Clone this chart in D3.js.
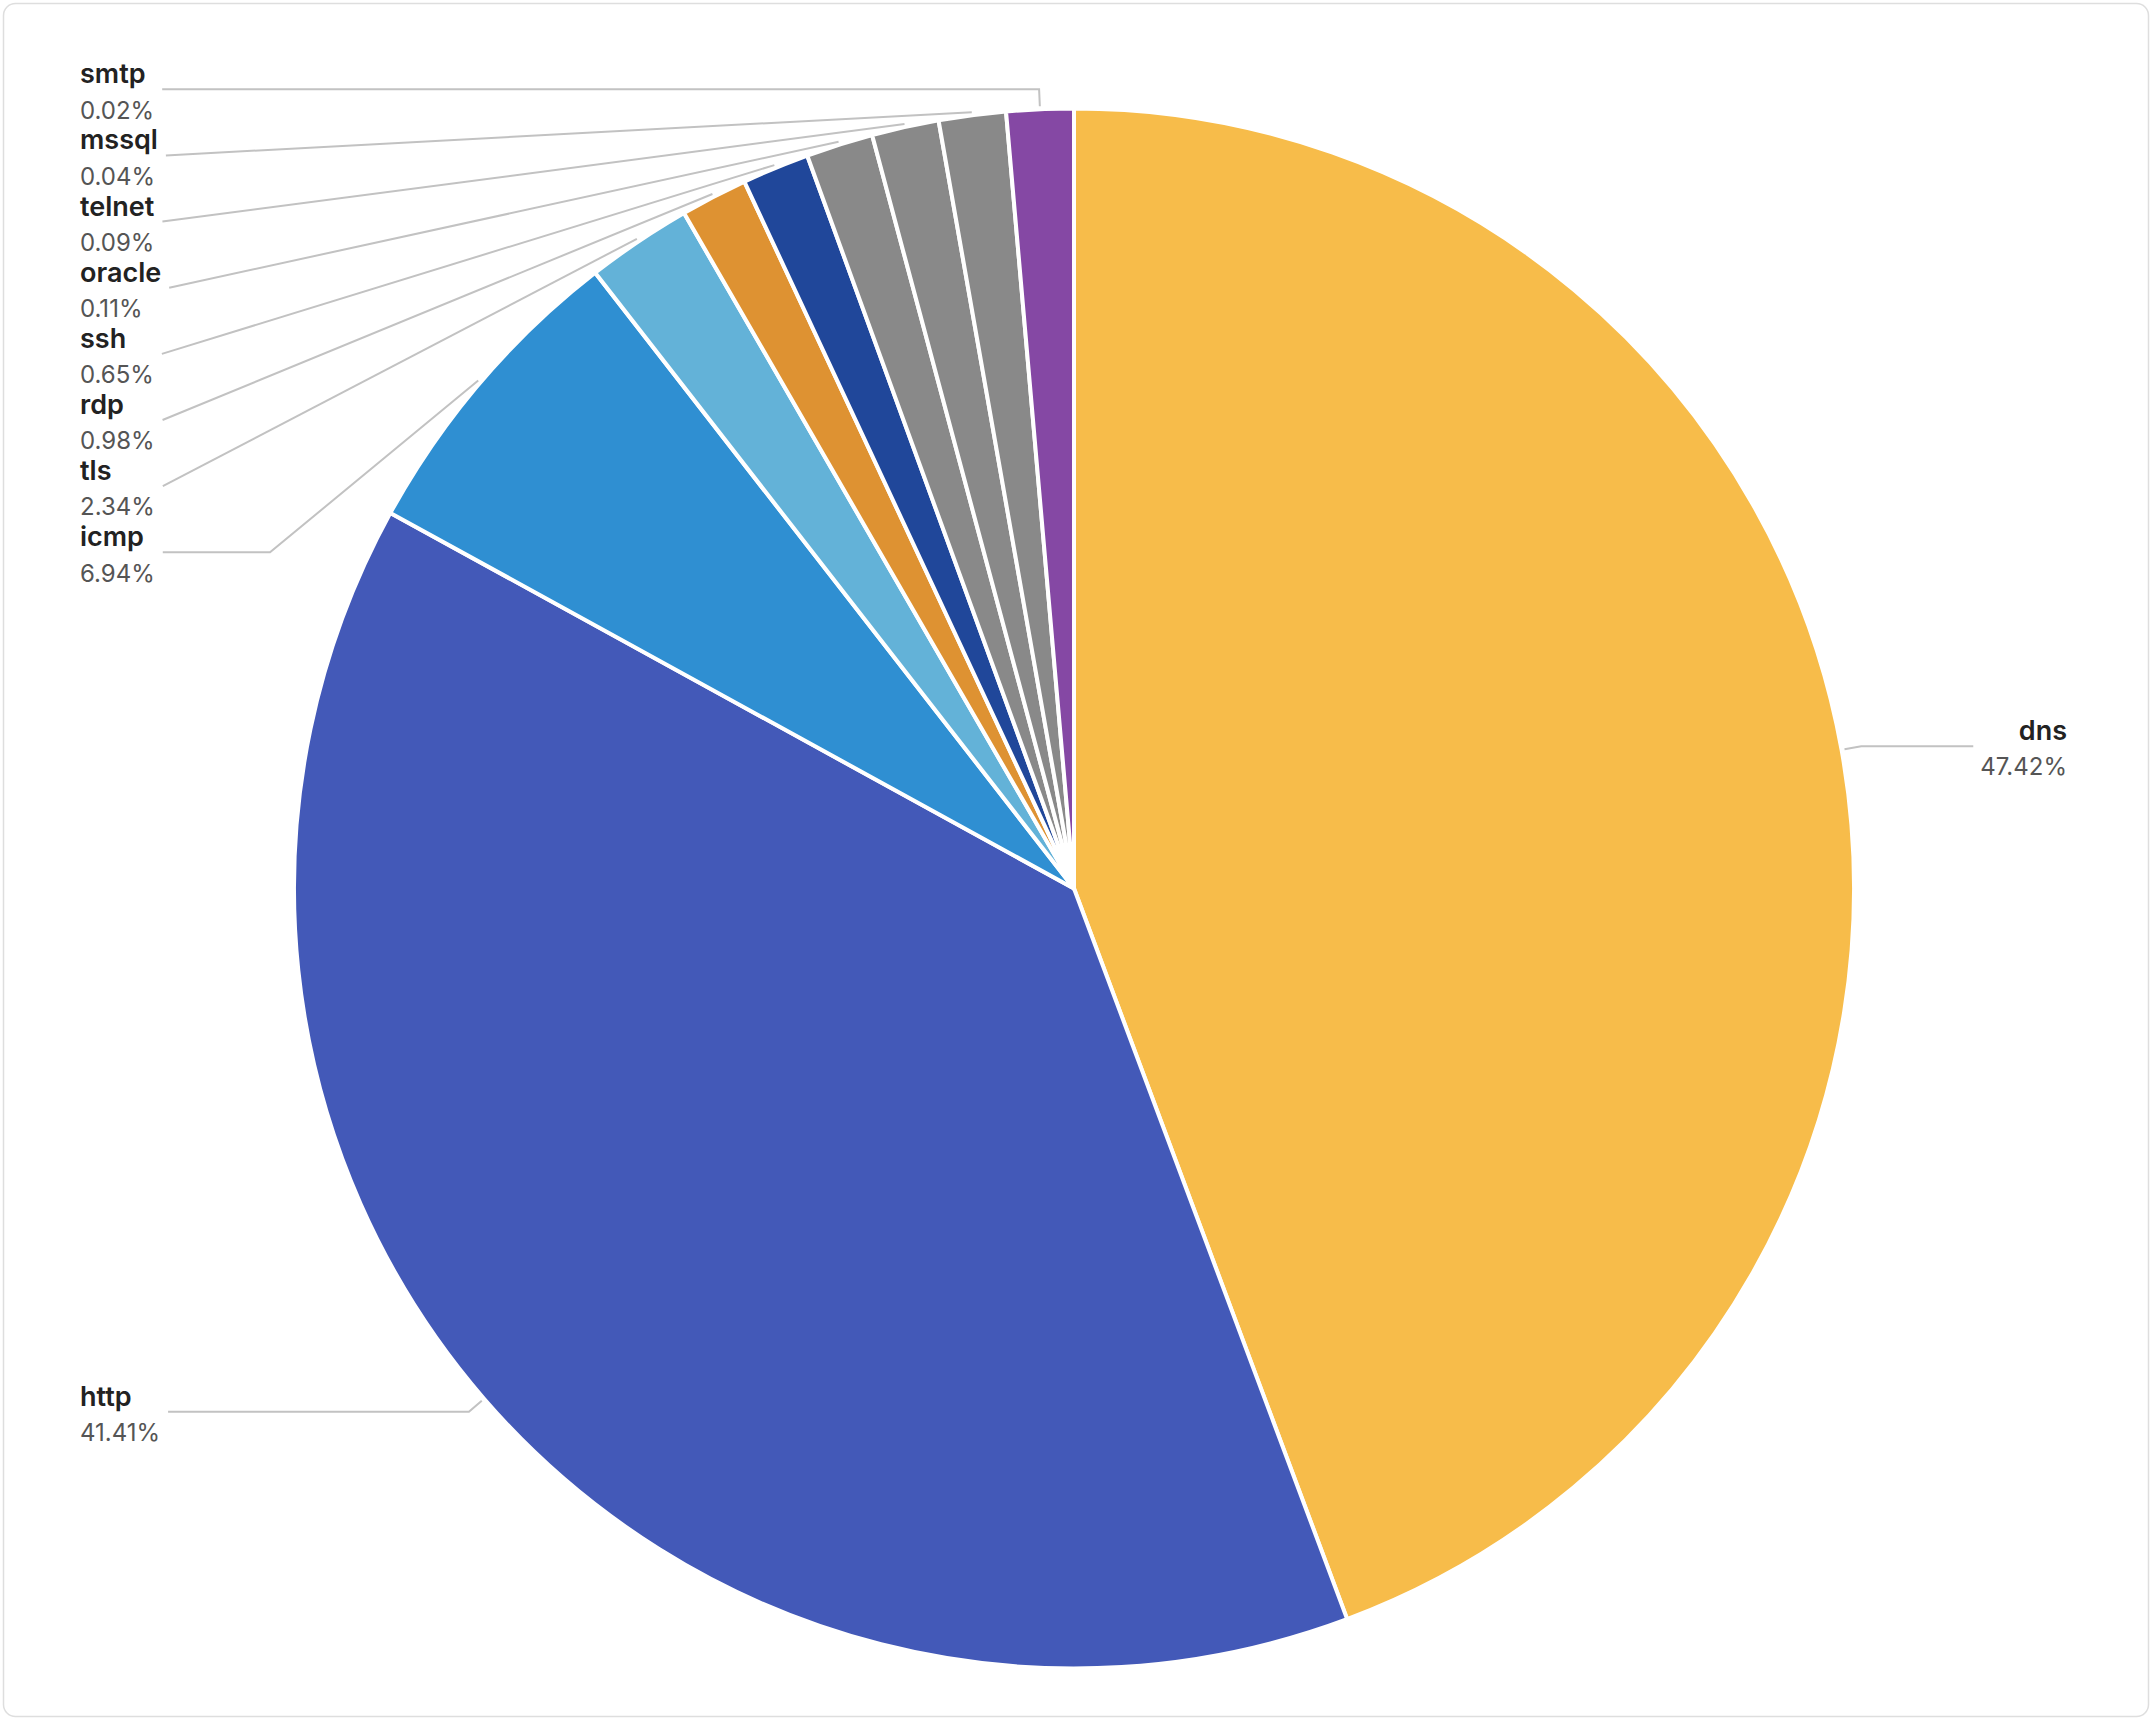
<!DOCTYPE html>
<html>
<head>
<meta charset="utf-8">
<script src="https://cdn.jsdelivr.net/npm/d3@7/dist/d3.min.js"></script>
<style>
  html, body { margin: 0; padding: 0; background: #ffffff; }
  svg { display: block; }
</style>
</head>
<body>
<svg id="chart" width="2152" height="1720"></svg>
<script>
// ---- data ----
const categories = ["dns", "http", "icmp", "tls", "rdp", "ssh", "oracle", "telnet", "mssql", "smtp"];
const percents   = [47.42, 41.41, 6.94, 2.34, 0.98, 0.65, 0.11, 0.09, 0.04, 0.02];
const colors     = ["#F7BC4A", "#4359B8", "#2F8FD2", "#63B2D8", "#DE9232", "#20479A", "#898989", "#898989", "#898989", "#8548A4"];
const percentLabels = ["47.42%", "41.41%", "6.94%", "2.34%", "0.98%", "0.65%", "0.11%", "0.09%", "0.04%", "0.02%"];

// ---- layout ----
const W = 2152, H = 1720;
const cx = 1074, cy = 888.5;
const R = 780;            // arc radius (white 4px border makes coloured edge ~778)
const R0 = 783;           // label line start radius
const R1 = 800;           // label line elbow radius
const minAngle = 5 * Math.PI / 180;
const labelStep = 66.15;
const leftEdge = 80, rightEdge = 2067;
const maxSurfaceAngle = 80, minTurnAngle = 90;

const svg = d3.select("#chart");

// card
svg.append("rect")
  .attr("x", 3.5).attr("y", 3.5).attr("width", W - 7).attr("height", H - 7)
  .attr("rx", 12).attr("ry", 12)
  .attr("fill", "#ffffff").attr("stroke", "#dedede").attr("stroke-width", 1.5);

// ---- min-angle adjusted pie (ECharts-like minAngle) ----
const total = d3.sum(percents);
const unit0 = 2 * Math.PI / total;
let rest = 2 * Math.PI, largeSum = 0, nSmall = 0;
percents.forEach(v => {
  if (v * unit0 < minAngle) { rest -= minAngle; nSmall++; } else { largeSum += v; }
});
const unit = rest / largeSum;
const effective = percents.map(v => (v * unit0 < minAngle) ? minAngle / unit : v);

const data = categories.map((c, i) => ({ name: c, value: percents[i], eff: effective[i], color: colors[i], pct: percentLabels[i] }));

const pie = d3.pie().sort(null).value(d => d.eff);
const arcs = pie(data);
const arc = d3.arc().innerRadius(0).outerRadius(R);

const g = svg.append("g").attr("transform", `translate(${cx},${cy})`);
g.selectAll("path.slice")
  .data(arcs)
  .join("path")
  .attr("class", "slice")
  .attr("d", arc)
  .attr("fill", d => d.data.color)
  .attr("stroke", "#ffffff")
  .attr("stroke-width", 4)
  .attr("stroke-linejoin", "round");

// ---- labels ----
const nameFont = "Inter, 'Noto Sans', sans-serif";
const labelsG = svg.append("g");

const layouts = arcs.map(a => {
  const mid = (a.startAngle + a.endAngle) / 2;
  const sx = Math.sin(mid), sy = -Math.cos(mid);
  return {
    a, mid, sx, sy,
    left: sx < 0,
    p0: [cx + R0 * sx, cy + R0 * sy],
    p1: [cx + R1 * sx, cy + R1 * sy],
    y: cy + R1 * sy
  };
});

// stack labels on each side (shift down on overlap)
[true, false].forEach(side => {
  const list = layouts.filter(l => l.left === side).sort((p, q) => p.y - q.y);
  for (let i = 1; i < list.length; i++) {
    if (list[i].y < list[i - 1].y + labelStep) list[i].y = list[i - 1].y + labelStep;
  }
});

function projectPointToLine(x1, y1, x2, y2, x, y, out) {
  const dx = x - x1, dy = y - y1;
  let dx1 = x2 - x1, dy1 = y2 - y1;
  const len = Math.sqrt(dx1 * dx1 + dy1 * dy1);
  dx1 /= len; dy1 /= len;
  const t = dx * dx1 + dy * dy1;
  out[0] = x1 + t * dx1; out[1] = y1 + t * dy1;
  return Math.hypot(out[0] - x, out[1] - y);
}
function norm(v) { const l = Math.hypot(v[0], v[1]); return [v[0] / l, v[1] / l, l]; }

function limitTurnAngle(pts, ang) {
  ang = ang / 180 * Math.PI;
  const [p0, p1, p2] = pts;
  const d1 = norm([p0[0] - p1[0], p0[1] - p1[1]]);
  const d2 = norm([p2[0] - p1[0], p2[1] - p1[1]]);
  if (d1[2] < 1e-3 || d2[2] < 1e-3) return;
  const c = d1[0] * d2[0] + d1[1] * d2[1];
  if (Math.cos(ang) < c) {
    const proj = [];
    const d = projectPointToLine(p1[0], p1[1], p2[0], p2[1], p0[0], p0[1], proj);
    const k = d / Math.tan(Math.PI - ang);
    let q = [proj[0] + d2[0] * k, proj[1] + d2[1] * k];
    const t = p2[0] !== p1[0] ? (q[0] - p1[0]) / (p2[0] - p1[0]) : (q[1] - p1[1]) / (p2[1] - p1[1]);
    if (isNaN(t)) return;
    if (t < 0) q = p1.slice(); else if (t > 1) q = p2.slice();
    pts[1] = q;
  }
}
function limitSurfaceAngle(pts, normal, ang) {
  ang = ang / 180 * Math.PI;
  const [p0, p1, p2] = pts;
  const d1 = norm([p1[0] - p0[0], p1[1] - p0[1]]);
  const d2 = norm([p2[0] - p1[0], p2[1] - p1[1]]);
  if (d1[2] < 1e-3 || d2[2] < 1e-3) return;
  const c = d1[0] * normal[0] + d1[1] * normal[1];
  if (c < Math.cos(ang)) {
    const proj = [];
    const d = projectPointToLine(p1[0], p1[1], p2[0], p2[1], p0[0], p0[1], proj);
    const angle2 = Math.acos(d2[0] * normal[0] + d2[1] * normal[1]);
    const newAngle = Math.PI / 2 + angle2 - ang;
    let q;
    if (newAngle >= Math.PI / 2) {
      q = p2.slice();
    } else {
      const k = d / Math.tan(Math.PI / 2 - newAngle);
      q = [proj[0] + d2[0] * k, proj[1] + d2[1] * k];
      const t = p2[0] !== p1[0] ? (q[0] - p1[0]) / (p2[0] - p1[0]) : (q[1] - p1[1]) / (p2[1] - p1[1]);
      if (isNaN(t)) return;
      if (t < 0) q = p1.slice(); else if (t > 1) q = p2.slice();
    }
    pts[1] = q;
  }
}

layouts.forEach(l => {
  const lg = labelsG.append("g");
  const anchor = l.left ? "start" : "end";
  const tx = l.left ? leftEdge : rightEdge;
  const nameT = lg.append("text")
    .attr("x", tx).attr("y", l.y - 6)
    .attr("text-anchor", anchor)
    .attr("font-family", nameFont)
    .attr("font-size", 27).attr("font-weight", 600)
    .attr("fill", "#222222")
    .text(l.a.data.name);
  const pctT = lg.append("text")
    .attr("x", tx).attr("y", l.y + 29.3)
    .attr("text-anchor", anchor)
    .attr("font-family", nameFont)
    .attr("font-size", 24).attr("font-weight", 400)
    .attr("fill", "#555555")
    .text(l.a.data.pct);
  const w = Math.max(nameT.node().getComputedTextLength(), pctT.node().getComputedTextLength());
  const p2x = l.left ? leftEdge + w + 8 : rightEdge - w - 7;
  const pts = [l.p0.slice(), [l.p1[0], l.y], [p2x, l.y]];
  limitTurnAngle(pts, minTurnAngle);
  limitSurfaceAngle(pts, [l.sx, l.sy], maxSurfaceAngle);
  labelsG.insert("path", ":first-child")
    .attr("d", d3.line()(pts))
    .attr("fill", "none")
    .attr("stroke", "#c2c2c2")
    .attr("stroke-width", 2);
});
</script>
</body>
</html>
